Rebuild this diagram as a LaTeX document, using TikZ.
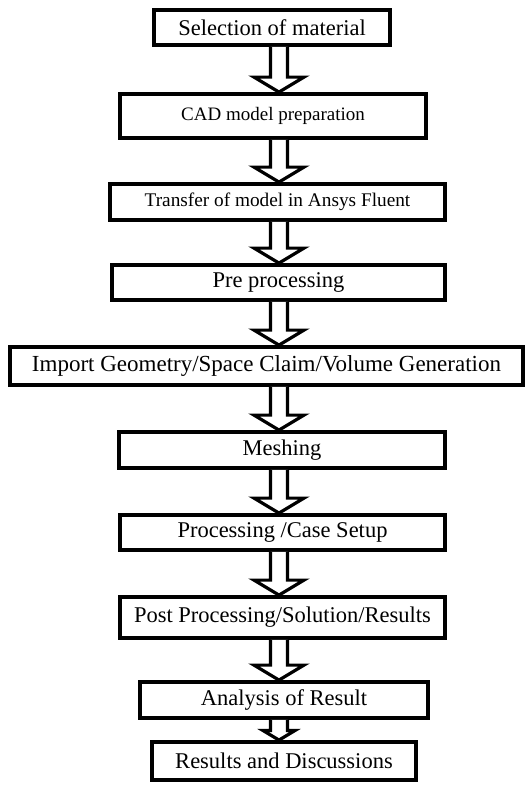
\documentclass[tikz,border=0pt]{standalone}
\usepackage{fontspec}
\setmainfont{Liberation Serif}
\usetikzlibrary{calc}
\tikzset{
  stage/.style={draw, line width=3.8pt, inner sep=0pt, font=\fontsize{22.5}{26}\selectfont},
  blockarrow/.style={draw, line width=3.2pt, fill=white, line join=miter}
}
\newcommand{\stagearrow}[3][25]{%
  \coordinate (s) at (#2.south -| axis);
  \coordinate (t) at (#3.north -| axis);
  \draw[blockarrow] ($(s)+(-8.5,0)$) -- ($(t)+(-8.5,#1*0.6)$) -- ($(t)+(-#1,#1*0.6)$) -- (t)
    -- ($(t)+(#1,#1*0.6)$) -- ($(t)+(8.5,#1*0.6)$) -- ($(s)+(8.5,0)$);
}
\begin{document}
\begin{tikzpicture}[x=1pt,y=1pt]
\useasboundingbox[fill=white] (0,0) rectangle (532,-790);
\coordinate (axis) at (279,0);
\node[stage, minimum width=236pt, minimum height=35pt] (material) at (272,-27.5) {Selection of material};
\node[stage, minimum width=306pt, minimum height=44pt, font=\fontsize{19}{22}\selectfont] (cad) at (273,-116) {CAD model preparation};
\node[stage, minimum width=335pt, minimum height=36pt, font=\fontsize{19.3}{22}\selectfont] (transfer) at (277.5,-202) {Transfer of model in Ansys Fluent};
\node[stage, minimum width=333pt, minimum height=35pt] (pre) at (278.5,-282.5) {Pre processing};
\node[stage, minimum width=513pt, minimum height=38pt, font=\fontsize{23}{26}\selectfont] (import) at (266.5,-366) {Import Geometry/Space Claim/Volume Generation};
\node[stage, minimum width=326pt, minimum height=36pt] (mesh) at (282,-450) {Meshing};
\node[stage, minimum width=325pt, minimum height=35pt] (setup) at (282.5,-532.5) {Processing /Case Setup};
\node[stage, minimum width=325pt, minimum height=41pt] (post) at (282.5,-617.5) {Post Processing/Solution/Results};
\node[stage, minimum width=288pt, minimum height=36pt] (analysis) at (284,-700) {Analysis of Result};
\node[stage, minimum width=264pt, minimum height=38pt] (discuss) at (284,-761) {Results and Discussions};
\stagearrow{material}{cad}
\stagearrow{cad}{transfer}
\stagearrow{transfer}{pre}
\stagearrow{pre}{import}
\stagearrow{import}{mesh}
\stagearrow{mesh}{setup}
\stagearrow{setup}{post}
\stagearrow{post}{analysis}
\stagearrow[16]{analysis}{discuss}
\end{tikzpicture}
\end{document}
